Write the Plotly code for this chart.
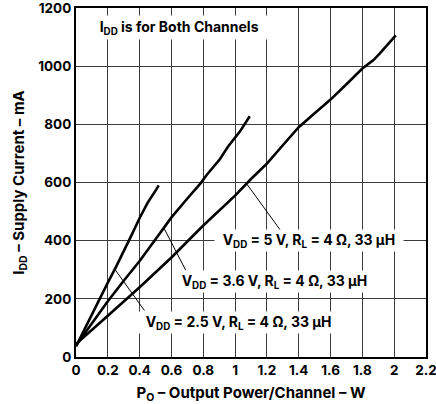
import numpy as np
import plotly.graph_objects as go

# ---- data ----
p_2v5 = [0, 0.05, 0.1, 0.15, 0.2, 0.25, 0.3, 0.35, 0.4, 0.45, 0.5, 0.52]
i_2v5 = [36, 92, 148, 203, 256, 308, 362, 420, 478, 530, 572, 590]

p_3v6 = [0, 0.1, 0.2, 0.3, 0.4, 0.5, 0.6, 0.7, 0.784, 0.82, 0.904, 0.956, 0.988, 1.03, 1.092]
i_3v6 = [40, 118, 192, 262, 330, 405, 480, 545, 598, 625, 680, 724, 745, 775, 828]

p_5v = [0, 0.1, 0.2, 0.4, 0.6, 0.8, 1.0, 1.1, 1.2, 1.3, 1.4, 1.5, 1.6, 1.7, 1.76, 1.8, 1.87, 1.91, 2.01]
i_5v = [45, 95, 142, 240, 342, 452, 555, 612, 665, 728, 790, 838, 885, 938, 972, 992, 1021, 1044, 1106]

x_ticks = [0, 0.2, 0.4, 0.6, 0.8, 1, 1.2, 1.4, 1.6, 1.8, 2, 2.2]
x_tick_text = ["0", "0.2", "0.4", "0.6", "0.8", "1", "1.2", "1.4", "1.6", "1.8", "2", "2.2"]
y_ticks = [0, 200, 400, 600, 800, 1000, 1200]

label_5v = "V<sub>DD</sub> = 5 V, R<sub>L</sub> = 4 Ω, 33 μH"
label_3v6 = "V<sub>DD</sub> = 3.6 V, R<sub>L</sub> = 4 Ω, 33 μH"
label_2v5 = "V<sub>DD</sub> = 2.5 V, R<sub>L</sub> = 4 Ω, 33 μH"
note_text = "I<sub>DD</sub> is for Both Channels"

FONT = "Inter, Liberation Sans, Arial, sans-serif"
fnt = dict(family=FONT, size=14, color="black", weight="bold")
title_fnt = dict(family=FONT, size=15, color="black", weight="bold")
tick_fnt = dict(family=FONT, size=13.5, color="black", weight="bold")

fig = go.Figure()
for px_, iy in [(p_2v5, i_2v5), (p_3v6, i_3v6), (p_5v, i_5v)]:
    fig.add_trace(go.Scatter(x=px_, y=iy, mode="lines",
                             line=dict(color="black", width=2.6),
                             showlegend=False, hoverinfo="skip"))

# leader lines: from a point on the curve to the label
leaders = [
    (p_5v, i_5v, 1.072, 1.294, 429),
    (p_3v6, i_3v6, 0.552, 0.69, 298),
    (p_2v5, i_2v5, 0.244, 0.43, 160),
]
for cx, cy, x0, x1, y1 in leaders:
    y0 = float(np.interp(x0, cx, cy))
    fig.add_shape(type="line", x0=x0, y0=y0, x1=x1, y1=y1,
                  xref="x", yref="y", line=dict(color="black", width=1))

pad = "\u00a0\u00a0"
for txt, x, y in [(label_5v, 1.464, 400), (label_3v6, 1.245, 258), (label_2v5, 1.02, 120)]:
    fig.add_annotation(x=x, y=y, xref="x", yref="y", text=pad + txt + pad,
                       showarrow=False, bgcolor="white", borderpad=1, font=fnt)

fig.add_annotation(x=0.649, y=1134, xref="x", yref="y", text=pad + note_text + pad,
                   showarrow=False, bgcolor="white", borderpad=2, font=fnt)

axis_common = dict(showline=True, mirror=True, linecolor="black", linewidth=2,
                   showgrid=True, gridcolor="#3c3c3c", gridwidth=1.2,
                   zeroline=False, ticks="",
                   tickfont=tick_fnt, ticklabeloverflow="allow", layer="below traces")

fig.update_xaxes(range=[x_ticks[0], x_ticks[-1]], tickvals=x_ticks, ticktext=x_tick_text,
                 title=dict(text="P<sub>O</sub> – Output Power/Channel – W", font=title_fnt, standoff=12),
                 **axis_common)
fig.update_yaxes(range=[y_ticks[0], y_ticks[-1]], tickvals=y_ticks,
                 title=dict(text="I<sub>DD</sub> – Supply Current – mA", font=title_fnt, standoff=10),
                 **axis_common)

fig.update_layout(template="none", width=436, height=404,
                  margin=dict(l=76, r=10, t=8, b=47),
                  plot_bgcolor="white", paper_bgcolor="white",
                  font=fnt)

js = "document.body.style.margin='0';document.body.style.overflow='hidden';"
fig.write_html("out.html", config={"displayModeBar": False}, post_script=js)
